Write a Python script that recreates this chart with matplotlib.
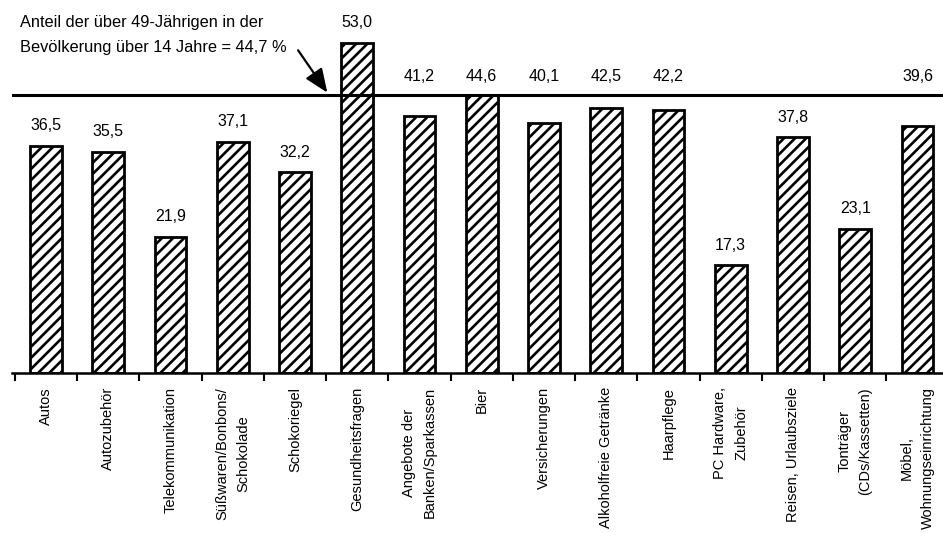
import numpy as np
import matplotlib
matplotlib.use("Agg")
import matplotlib.pyplot as plt

plt.rcParams['font.family'] = ['Liberation Sans', 'DejaVu Sans']
plt.rcParams['hatch.linewidth'] = 1.9

# data
categories = ['Autos', 'Autozubehör', 'Telekommunikation',
              'Süßwaren/Bonbons/\nSchokolade', 'Schokoriegel',
              'Gesundheitsfragen', 'Angebote der\nBanken/Sparkassen', 'Bier',
              'Versicherungen', 'Alkoholfreie Getränke', 'Haarpflege',
              'PC Hardware,\nZubehör', 'Reisen, Urlaubsziele',
              'Tonträger\n(CDs/Kassetten)', 'Möbel,\nWohnungseinrichtung']
values = [36.5, 35.5, 21.9, 37.1, 32.2, 53.0, 41.2, 44.6, 40.1, 42.5,
          42.2, 17.3, 37.8, 23.1, 39.6]
ref_value = 44.7
ref_text = 'Anteil der über 49-Jährigen in der\nBevölkerung über 14 Jahre = 44,7 %'

fig = plt.figure(figsize=(9.43, 5.33), dpi=100)
ax = fig.add_axes([12 / 943, 160 / 533, 1 - 12 / 943, 373 / 533])

x = np.arange(len(values))
ax.bar(x, values, width=0.51, color='white', edgecolor='black',
       linewidth=2.0, hatch='///')

ax.axhline(ref_value, color='black', linewidth=2.2, zorder=3)

# value labels, the ones near the line go above it
for xi, v in zip(x, values):
    txt = f'{v:.1f}'.replace('.', ',')
    if ref_value - 5.5 < v < ref_value + 4:
        ax.annotate(txt, (xi, ref_value), xytext=(0, 13),
                    textcoords='offset points', ha='center', va='center',
                    fontsize=11.5)
    else:
        ax.annotate(txt, (xi, v), xytext=(0, 14.5),
                    textcoords='offset points', ha='center', va='center',
                    fontsize=11.5)

ax.set_xlim(-0.546, 14.41)
ax.set_ylim(0, 59.87)

ax.set_xticks(x)
ax.set_xticklabels(categories, rotation=90, fontsize=10.5,
                   multialignment='center', linespacing=1.6)
ax.tick_params(axis='x', which='major', length=0, pad=10)
ax.set_xticks(np.arange(-0.5, 14, 1), minor=True)
ax.tick_params(axis='x', which='minor', length=5.5, width=1.5,
               direction='out')
ax.set_yticks([])

for s in ['top', 'right', 'left']:
    ax.spines[s].set_visible(False)
ax.spines['bottom'].set_linewidth(1.8)

# annotation with arrow
fig.text(20 / 943, 1 - 35 / 533, ref_text, fontsize=11.8,
         ha='left', va='center', linespacing=1.9)
ax.annotate('', xy=(4.52, ref_value + 0.3), xytext=(4.05, 51.8),
            arrowprops=dict(arrowstyle='-|>,head_length=1.45,head_width=0.6',
                            color='black', lw=1.6, shrinkA=0, shrinkB=0))

plt.savefig('out.png', dpi=100)
